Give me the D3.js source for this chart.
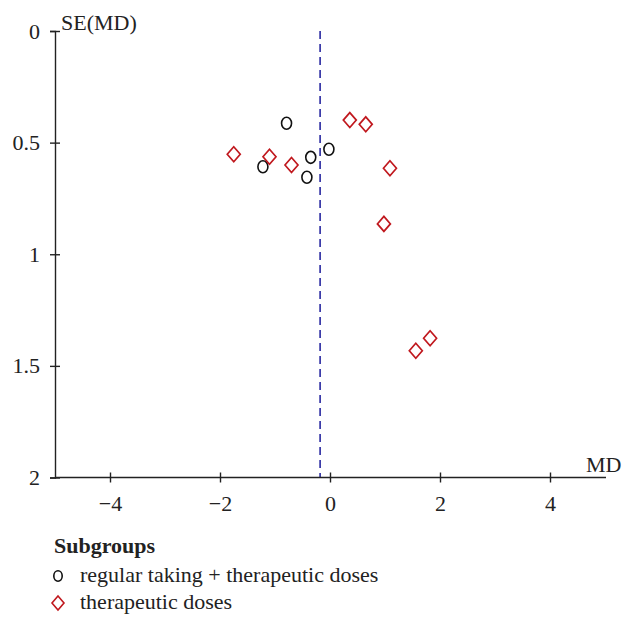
<!DOCTYPE html>
<meta charset="utf-8">
<head>
<style>
body { margin: 0; background: #fff; }
svg { font-family: "Liberation Serif", "DejaVu Serif", serif; }
.axis path, .axis line { stroke: #222; stroke-width: 1.4; }
.axis text { font-size: 22px; fill: #222; font-family: "Liberation Serif", serif; }
</style>
</head>
<body>
<svg width="636" height="629"></svg>
<script src="https://d3js.org/d3.v7.min.js"></script>
<script>

// regular taking + therapeutic doses
var regMD = [-0.79, -1.22, -0.35, -0.42, -0.02];
var regSE = [0.413, 0.608, 0.566, 0.655, 0.530];

// therapeutic doses
var thMD = [-1.75, -1.10, -0.70, 0.36, 0.65, 1.09, 0.98, 1.56, 1.82];
var thSE = [0.552, 0.563, 0.600, 0.399, 0.418, 0.615, 0.864, 1.432, 1.376];

var pooledMD = -0.18;

var xTicks = [-4, -2, 0, 2, 4];
var yTicks = [0, 0.5, 1, 1.5, 2];

var svg = d3.select("svg");

var x = d3.scaleLinear().domain([-5, 5]).range([55, 605]);
var y = d3.scaleLinear().domain([0, 2]).range([31, 477.5]);

// dashed line at pooled estimate
svg.append("line")
    .attr("x1", x(pooledMD)).attr("x2", x(pooledMD))
    .attr("y1", y(0)).attr("y2", y(2))
    .attr("stroke", "#1a1a9a")
    .attr("stroke-width", 1.5)
    .attr("stroke-dasharray", "8,5");

var xAxis = svg.append("g")
    .attr("class", "axis")
    .attr("transform", "translate(0," + y(2) + ")")
    .call(d3.axisBottom(x).tickValues(xTicks).tickSizeOuter(0).tickSize(5)
      .tickFormat(function(d) { return d < 0 ? "\u2212" + Math.abs(d) : d; }));
xAxis.selectAll(".tick line").attr("y1", -5).attr("y2", 5);
xAxis.selectAll(".tick text").attr("y", 18).attr("dy", "0.71em");
xAxis.select(".domain").attr("d", "M" + x(-5) + ",0H" + (x(5) + 1));

var yAxis = svg.append("g")
    .attr("class", "axis")
    .attr("transform", "translate(" + x(-5) + ",0)")
    .call(d3.axisLeft(y).tickValues(yTicks).tickSizeOuter(0).tickSize(5)
      .tickFormat(function(d) { return d; }));
yAxis.selectAll(".tick line").attr("x1", -5).attr("x2", 5);
yAxis.selectAll(".tick text").attr("x", -15);

svg.append("text")
    .attr("x", 61).attr("y", 30)
    .style("font-size", "22px").style("fill", "#222")
    .text("SE(MD)");

svg.append("text")
    .attr("x", 586).attr("y", 472)
    .style("font-size", "22px").style("fill", "#222")
    .text("MD");

// points
svg.selectAll(".reg")
  .data(d3.range(regMD.length))
  .enter().append("ellipse")
    .attr("class", "reg")
    .attr("cx", function(i) { return x(regMD[i]); })
    .attr("cy", function(i) { return y(regSE[i]); })
    .attr("rx", 5).attr("ry", 6)
    .attr("fill", "none")
    .attr("stroke", "#111")
    .attr("stroke-width", 1.6);

function diamond(cx, cy, w, h) {
  return "M" + cx + "," + (cy - h) + "L" + (cx + w) + "," + cy +
    "L" + cx + "," + (cy + h) + "L" + (cx - w) + "," + cy + "Z";
}

svg.selectAll(".th")
  .data(d3.range(thMD.length))
  .enter().append("path")
    .attr("class", "th")
    .attr("d", function(i) { return diamond(x(thMD[i]), y(thSE[i]), 6.5, 7.5); })
    .attr("fill", "none")
    .attr("stroke", "#c0181e")
    .attr("stroke-width", 1.7);

// legend
var lg = svg.append("g");
lg.append("text")
    .attr("x", 54).attr("y", 553)
    .style("font-size", "22px").style("font-weight", "bold").style("fill", "#222")
    .text("Subgroups");
lg.append("ellipse")
    .attr("cx", 58).attr("cy", 576).attr("rx", 4.2).attr("ry", 5.2)
    .attr("fill", "none").attr("stroke", "#111").attr("stroke-width", 1.6);
lg.append("text")
    .attr("x", 80).attr("y", 582)
    .style("font-size", "22px").style("fill", "#222")
    .text("regular taking + therapeutic doses");
lg.append("path")
    .attr("d", diamond(58, 603, 6, 7))
    .attr("fill", "none").attr("stroke", "#c0181e").attr("stroke-width", 1.6);
lg.append("text")
    .attr("x", 80).attr("y", 609)
    .style("font-size", "22px").style("fill", "#222")
    .text("therapeutic doses");

</script>
</body>
</html>
